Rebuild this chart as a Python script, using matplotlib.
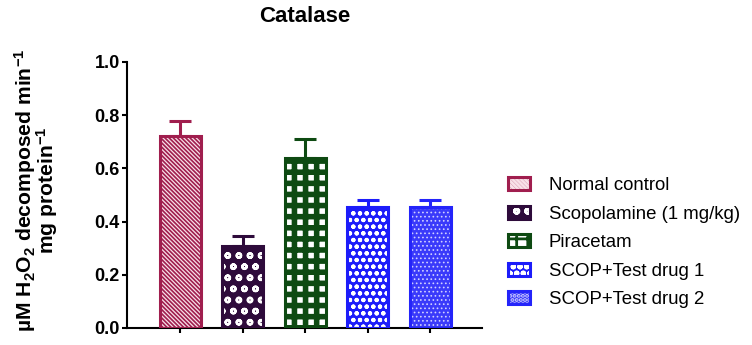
import matplotlib
matplotlib.use('Agg')
import matplotlib.pyplot as plt
import numpy as np
from matplotlib.legend_handler import HandlerTuple

# ---- data ----
groups = ["Normal control", "Scopolamine (1 mg/kg)", "Piracetam",
          "SCOP+Test drug 1", "SCOP+Test drug 2"]
means = [0.72, 0.31, 0.64, 0.455, 0.455]
sems = [0.06, 0.035, 0.07, 0.025, 0.025]
y_ticks = [0.0, 0.2, 0.4, 0.6, 0.8, 1.0]
title = "Catalase"
ylabel = "µM H$_2$O$_2$ decomposed min$^{-1}$\nmg protein$^{-1}$"

# ---- styles ----
colors = ['#A01E4E', '#2E0B3B', '#0E4A12', '#1C1CFA', '#2424FA']
faces = ['#A01E4E', '#2E0B3B', 'white', '#1C1CFA', '#3A3AFA']
hatch_colors = ['#F8E0E8', 'white', '#0E4A12', 'white', '#D0D0FF']
hatches = ['\\' * 16, 'ooo', '+++', 'ooooo', '.' * 8]
hatch_lws = [0.45, 0.85, 2.0, 0.6, 0.35]

plt.rcParams['font.family'] = ['Liberation Sans', 'DejaVu Sans']
plt.rcParams['mathtext.fontset'] = 'custom'
plt.rcParams['mathtext.rm'] = 'Liberation Sans:bold'
plt.rcParams['mathtext.it'] = 'Liberation Sans:bold'
plt.rcParams['mathtext.bf'] = 'Liberation Sans:bold'
plt.rcParams['mathtext.default'] = 'rm'

W, H, DPI = 752, 345, 200
fig = plt.figure(figsize=(W / DPI, H / DPI), dpi=DPI)
ax = fig.add_axes([127 / W, 1 - 328 / H, (482 - 127) / W, (328 - 62) / H])

x = np.arange(len(groups))
width = 0.656
handles = []
for i in range(len(groups)):
    with plt.rc_context({'hatch.linewidth': hatch_lws[i]}):
        f = ax.bar(x[i], means[i], width, color=faces[i], edgecolor=hatch_colors[i],
                   linewidth=0, hatch=hatches[i], zorder=2)[0]
    if hasattr(f, 'set_hatch_linewidth'):
        f.set_hatch_linewidth(hatch_lws[i])
    o = ax.bar(x[i], means[i], width, fill=False, edgecolor=colors[i],
               linewidth=1.1, zorder=3)[0]
    ax.errorbar(x[i], means[i], yerr=[[0], [sems[i]]], fmt='none',
                ecolor=colors[i], elinewidth=1.1, capsize=4, capthick=1.1, zorder=1)
    handles.append((f, o))

ax.set_xlim(-0.85, 4.83)
ax.set_ylim(0, 1.0)
ax.set_yticks(y_ticks)
ax.set_yticklabels([f"{v:.1f}" for v in y_ticks], fontsize=6.5, fontweight='bold')
ax.set_xticks(x)
ax.set_xticklabels([])
for s in ['top', 'right']:
    ax.spines[s].set_visible(False)
for s in ['left', 'bottom']:
    ax.spines[s].set_linewidth(0.75)
ax.tick_params(axis='both', direction='out', length=1.8, width=0.75, pad=0.8)

fig.text(304.5 / W, 1 - 16 / H, title, ha='center', va='center',
         fontsize=8, fontweight='bold')
fig.text(36 / W, 1 - 190 / H, ylabel, rotation=90, ha='center', va='center',
         multialignment='center', fontsize=7.6, fontweight='bold', linespacing=0.8)

fig.legend(handles=handles, labels=groups,
           handler_map={tuple: HandlerTuple(ndivide=1)},
           loc='upper left', bbox_to_anchor=(508 / W, 1 - 177 / H),
           bbox_transform=fig.transFigure, frameon=False, fontsize=6.7,
           handlelength=1.2, handleheight=0.7, handletextpad=1.0,
           labelspacing=0.62, borderpad=0, borderaxespad=0)

fig.savefig('out.png', dpi=DPI)
